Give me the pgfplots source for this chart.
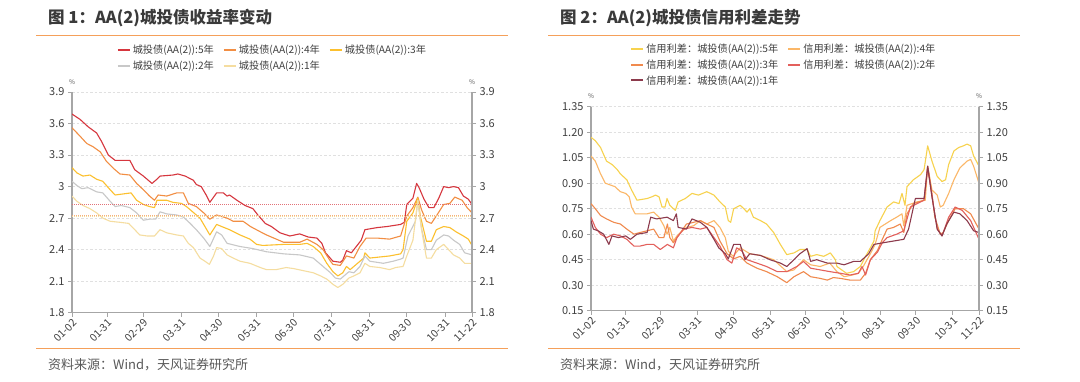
\documentclass[border=0pt]{standalone}
\usepackage{fontspec}
\setmainfont{Noto Sans CJK SC}
\usepackage{pgfplots}
\pgfplotsset{compat=1.18}
\definecolor{axisgray}{HTML}{A6A6A6}
\definecolor{gridgray}{HTML}{E0E0E0}
\definecolor{tickgray}{HTML}{404040}
\definecolor{titlegray}{HTML}{3A3A3A}
\definecolor{srcgray}{HTML}{595959}
\definecolor{rulec}{HTML}{F5A05A}
\definecolor{cA}{HTML}{D6363E}
\definecolor{cB}{HTML}{F28E43}
\definecolor{cC}{HTML}{FCC02E}
\definecolor{cD}{HTML}{C8C8C8}
\definecolor{cE}{HTML}{F5DDA0}
\definecolor{rA}{HTML}{F7D24E}
\definecolor{rB}{HTML}{FBB768}
\definecolor{rC}{HTML}{F08A4E}
\definecolor{rD}{HTML}{E3605C}
\definecolor{rE}{HTML}{8C3A4C}
\pgfplotsset{
  base/.style={
    scale only axis, xmin=0, xmax=325,
    axis line style={draw=axisgray, line width=1.1pt, -},
    tick style={draw=axisgray, line width=0.8pt},
    major tick length=4pt, tick align=outside,
    yticklabel style={font=\fontsize{11}{12}\selectfont, text=tickgray},
    xticklabel style={font=\fontsize{10.5}{12}\selectfont, text=tickgray},
    /pgf/number format/assume math mode=true,
  },
  main/.style={base, axis x line*=bottom, axis y line*=left,
    ymajorgrids, grid style={draw=gridgray, dash pattern=on 2.5pt off 2pt, line width=0.6pt},
    xtick={0,29,58,89,119,150,180,211,242,272,303,325},
    xticklabels={01-02,01-31,02-29,03-31,04-30,05-31,06-30,07-31,08-31,09-30,10-31,11-22},
    x tick label style={rotate=45, anchor=north east, inner sep=1pt},
    legend style={draw=none, fill=none, font=\fontsize{10.2}{12}\selectfont, text=tickgray, anchor=north, row sep=1.5pt,
      /tikz/every even column/.append style={column sep=7pt}},
    legend image code/.code={\draw[#1, line width=2pt] (0pt,0pt) -- (12pt,0pt);},
    every axis plot/.append style={line width=1.1pt, line join=round},
  },
  twin/.style={base, axis y line*=right, axis x line=none},
}
\begin{document}
\begin{tikzpicture}[x=1pt,y=1pt]
\useasboundingbox[fill=white] (0,0) rectangle (1080,-381);
% ---------- panel 1 ----------
\node[anchor=west, inner sep=0, font=\fontsize{16.5}{18}\selectfont\bfseries, text=titlegray] at (48,-18) {图 1：AA(2)城投债收益率变动};
\draw[rulec, line width=1pt] (36,-35) -- (508,-35);
\draw[rulec, line width=1pt] (36,-348) -- (508,-348);
\node[anchor=west, inner sep=0, font=\fontsize{13}{15}\selectfont, text=srcgray] at (48,-365) {资料来源：Wind，天风证券研究所};
\node[font=\fontsize{6.5}{7}\selectfont, text=srcgray] at (72,-82) {\%};
\node[font=\fontsize{6.5}{7}\selectfont, text=srcgray] at (472,-82) {\%};
\begin{axis}[main, at={(72pt,-312.7pt)}, anchor=south west, width=400pt, height=220.7pt,
  ymin=1.8, ymax=3.9, ytick={1.8,2.1,2.4,2.7,3.0,3.3,3.6,3.9},
  legend columns=3, legend style={at={(0.501,1.231)}}]
\addplot[cA] coordinates {(0,3.69)(6.5,3.64)(13,3.57)(20,3.51)(24,3.43)(29.5,3.30)(35,3.25)(47,3.25)(51,3.16)(58,3.10)(65,3.03)(69,3.07)(71.5,3.10)(82,3.11)(86,3.12)(92,3.10)(98.6,3.06)(101,3.02)(105,3.00)(109,2.92)(112,2.85)(117.5,2.94)(123,2.94)(126,2.91)(128,2.92)(134,2.87)(140.6,2.82)(147,2.79)(151,2.73)(157,2.65)(162,2.62)(169,2.56)(177,2.53)(185,2.55)(192,2.52)(199,2.51)(203,2.46)(206,2.37)(212,2.29)(218,2.28)(220,2.30)(223,2.39)(227,2.37)(231,2.43)(235,2.49)(238,2.59)(248,2.61)(256,2.62)(267,2.64)(270,2.66)(272,2.83)(277,2.89)(280,3.03)(282,2.99)(286,2.88)(290,2.80)(294,2.80)(298,2.89)(302,3.00)(306,2.99)(310,3.00)(314,2.99)(318,2.91)(322,2.88)(325,2.83)};
\addlegendentry{城投债(AA(2)):5年}
\addplot[cB] coordinates {(0,3.56)(6.5,3.48)(12,3.41)(17,3.38)(23,3.33)(28,3.24)(34,3.17)(39,3.12)(47,3.11)(52.5,3.03)(58,2.97)(63,2.91)(67,2.87)(70,2.92)(77,2.91)(85,2.94)(90.5,2.94)(94.5,2.84)(101,2.81)(107,2.75)(112,2.69)(117.5,2.73)(126,2.70)(131,2.67)(139,2.67)(145,2.62)(153,2.57)(158,2.54)(166,2.50)(172,2.47)(185,2.47)(191,2.50)(199,2.45)(204,2.40)(210,2.29)(212,2.26)(218,2.25)(223,2.34)(229,2.32)(234,2.43)(239,2.51)(248,2.51)(258,2.50)(267,2.53)(272,2.72)(277,2.80)(281,2.90)(284,2.78)(288,2.67)(292,2.65)(296,2.72)(302,2.83)(307,2.84)(311,2.90)(317,2.87)(321,2.80)(325,2.75)};
\addlegendentry{城投债(AA(2)):4年}
\addplot[cC] coordinates {(0,3.18)(4,3.13)(9,3.10)(14.6,3.11)(20,3.07)(25,3.05)(31,2.97)(35,2.92)(48,2.94)(52.5,2.87)(58,2.83)(63,2.81)(67,2.80)(69,2.87)(77,2.87)(82,2.85)(89,2.84)(93,2.81)(99,2.75)(104,2.70)(108,2.62)(112,2.54)(117.5,2.64)(121.6,2.62)(128,2.59)(136.5,2.54)(144.6,2.50)(150,2.45)(155,2.44)(172,2.45)(185,2.45)(191,2.46)(196,2.43)(202,2.37)(207,2.27)(212,2.19)(216,2.15)(220,2.18)(223,2.24)(226,2.21)(231,2.26)(237,2.32)(238,2.37)(242,2.32)(250,2.33)(258,2.34)(267,2.36)(269,2.40)(272,2.67)(277,2.75)(281,2.89)(283,2.72)(288,2.48)(292,2.48)(296,2.59)(302,2.62)(307,2.61)(312,2.57)(318,2.53)(322,2.50)(325,2.44)};
\addlegendentry{城投债(AA(2)):3年}
\addplot[cD] coordinates {(0,3.05)(4,3.01)(8,2.98)(13,2.99)(20,2.95)(25,2.94)(31,2.86)(35,2.81)(40,2.82)(47,2.80)(52.5,2.75)(58,2.68)(63,2.69)(68,2.69)(71.5,2.76)(77,2.74)(85,2.73)(90.5,2.71)(96,2.65)(101,2.59)(107,2.51)(112,2.43)(117.5,2.57)(121.6,2.54)(126,2.46)(136.5,2.43)(147,2.41)(158,2.38)(172,2.36)(185,2.35)(196,2.32)(204,2.24)(210,2.18)(214,2.13)(218,2.12)(222,2.16)(225,2.19)(229,2.18)(234,2.24)(238,2.34)(242,2.29)(253,2.27)(261,2.29)(267,2.31)(269,2.32)(273,2.53)(279,2.67)(281,2.87)(284,2.60)(288,2.40)(292,2.40)(296,2.49)(302,2.54)(306,2.53)(310,2.49)(315,2.45)(319,2.37)(325,2.35)};
\addlegendentry{城投债(AA(2)):2年}
\addplot[cE] coordinates {(0,2.91)(4,2.86)(9,2.82)(14.6,2.79)(20,2.75)(25,2.70)(31,2.67)(39,2.66)(46,2.65)(51,2.59)(55,2.54)(61,2.53)(67,2.53)(71.5,2.59)(77,2.56)(85,2.54)(90.5,2.53)(94.5,2.46)(98.6,2.42)(104,2.32)(108,2.29)(111.6,2.26)(115,2.34)(117.5,2.42)(121.6,2.41)(126,2.35)(131,2.32)(136.5,2.29)(144.6,2.27)(153,2.23)(158,2.21)(166,2.21)(174,2.23)(180,2.22)(188,2.20)(196,2.18)(202,2.15)(207,2.12)(212,2.07)(216,2.04)(220,2.07)(225,2.13)(229,2.15)(234,2.18)(238,2.27)(242,2.24)(250,2.23)(258,2.21)(263,2.23)(269,2.24)(272,2.34)(277,2.49)(281,2.87)(284,2.59)(288,2.32)(292,2.32)(296,2.40)(302,2.45)(306,2.40)(310,2.35)(315,2.32)(319,2.27)(325,2.27)};
\addlegendentry{城投债(AA(2)):1年}
\addplot[cA!70, line width=0.7pt, dash pattern=on 1pt off 1pt, forget plot] coordinates {(0,2.835)(325,2.835)};
\addplot[cB!70, line width=0.7pt, dash pattern=on 1pt off 1pt, forget plot] coordinates {(0,2.73)(325,2.73)};
\addplot[cE, line width=0.7pt, dash pattern=on 1pt off 1pt, forget plot] coordinates {(0,2.715)(325,2.715)};
\end{axis}
\begin{axis}[twin, at={(72pt,-312.7pt)}, anchor=south west, width=400pt, height=220.7pt,
  ymin=1.8, ymax=3.9, ytick={1.8,2.1,2.4,2.7,3.0,3.3,3.6,3.9}]
\end{axis}
% ---------- panel 2 ----------
\node[anchor=west, inner sep=0, font=\fontsize{16.5}{18}\selectfont\bfseries, text=titlegray] at (560,-18) {图 2：AA(2)城投债信用利差走势};
\draw[rulec, line width=1pt] (548,-35) -- (1020,-35);
\draw[rulec, line width=1pt] (548,-348) -- (1020,-348);
\node[anchor=west, inner sep=0, font=\fontsize{13}{15}\selectfont, text=srcgray] at (560,-365) {资料来源：Wind，天风证券研究所};
\node[font=\fontsize{6.5}{7}\selectfont, text=srcgray] at (591,-96) {\%};
\node[font=\fontsize{6.5}{7}\selectfont, text=srcgray] at (979,-96) {\%};
\begin{axis}[main, at={(591pt,-310.7pt)}, anchor=south west, width=388pt, height=204pt,
  ymin=0.15, ymax=1.35, ytick={0.15,0.30,0.45,0.60,0.75,0.90,1.05,1.20,1.35},
  yticklabel style={/pgf/number format/.cd, fixed, fixed zerofill, precision=2},
  legend columns=2, legend style={at={(0.497,1.327)}}]
\addplot[rA] coordinates {(0,1.17)(3.6,1.15)(8,1.11)(13,1.03)(17.6,1.01)(22,0.98)(24.6,0.955)(30,0.92)(34,0.86)(38.5,0.80)(47,0.81)(51,0.82)(54,0.83)(57,0.82)(59.5,0.76)(62,0.76)(63.7,0.81)(66,0.77)(70.6,0.74)(73,0.79)(79,0.81)(84.6,0.84)(90,0.83)(97,0.85)(103,0.83)(108,0.79)(112.5,0.76)(115,0.68)(117,0.67)(119.5,0.75)(125,0.77)(128,0.75)(130.7,0.73)(133,0.75)(136,0.70)(142,0.68)(147,0.66)(153,0.61)(158.6,0.54)(164,0.48)(170,0.49)(175,0.51)(181,0.51)(184,0.47)(189,0.48)(195,0.47)(200.5,0.49)(204.7,0.45)(206,0.41)(212,0.38)(214,0.37)(220,0.38)(225.6,0.41)(230,0.47)(234,0.52)(237,0.56)(238,0.62)(242,0.68)(248,0.76)(253.5,0.79)(258,0.78)(260.5,0.84)(263,0.77)(264.7,0.88)(270,0.92)(276,0.95)(279,0.98)(282,1.12)(285.6,1.03)(290,0.94)(294,0.91)(297,0.92)(299.6,1.01)(304,1.09)(308,1.11)(312,1.12)(315,1.13)(318,1.12)(320.5,1.06)(325,1.00)};
\addlegendentry{信用利差：城投债(AA(2)):5年}
\addplot[rB] coordinates {(0,1.06)(3.6,1.03)(8,0.955)(12,0.90)(16,0.89)(20,0.88)(24.6,0.85)(29,0.84)(32,0.82)(34,0.76)(37,0.72)(47,0.72)(52.5,0.73)(57,0.70)(61,0.65)(63.7,0.60)(66,0.64)(69,0.56)(72,0.59)(75,0.61)(80,0.64)(86,0.65)(91.6,0.68)(97,0.66)(103,0.68)(108,0.64)(112.5,0.58)(115,0.50)(119,0.47)(125,0.52)(133,0.485)(142,0.475)(153,0.45)(164,0.38)(170,0.39)(178,0.45)(184,0.42)(192,0.41)(200,0.43)(206,0.38)(212,0.35)(219,0.36)(224,0.37)(228,0.41)(234,0.485)(238,0.54)(242,0.64)(251,0.68)(256,0.70)(260.5,0.72)(262,0.65)(264.7,0.77)(273,0.79)(280,0.80)(282,1.00)(285.6,0.86)(290,0.83)(292.6,0.76)(295,0.77)(299.6,0.84)(304,0.92)(309,0.99)(315,1.03)(318,1.04)(320.5,1.00)(325,0.90)};
\addlegendentry{信用利差：城投债(AA(2)):4年}
\addplot[rC] coordinates {(0,0.78)(3.6,0.75)(8,0.71)(13,0.69)(19,0.67)(24.6,0.66)(30,0.63)(36,0.60)(41,0.61)(47,0.62)(52.5,0.63)(57,0.58)(61,0.58)(64,0.66)(66,0.58)(69,0.55)(75,0.61)(80,0.66)(86,0.67)(91.6,0.68)(97,0.66)(103,0.64)(108,0.56)(114,0.485)(119.5,0.455)(125,0.47)(130.7,0.43)(139,0.40)(147,0.38)(156,0.35)(164,0.315)(170,0.35)(178,0.38)(184,0.35)(192,0.34)(198,0.33)(203,0.345)(209,0.34)(217,0.33)(225.6,0.33)(230,0.37)(234,0.45)(240,0.505)(244,0.57)(248,0.63)(253.5,0.64)(259,0.66)(262,0.61)(264.7,0.72)(270,0.78)(279,0.80)(282,1.00)(285.6,0.84)(288,0.70)(292.6,0.60)(295,0.61)(299.6,0.68)(305,0.75)(312,0.75)(318,0.72)(325,0.63)};
\addlegendentry{信用利差：城投债(AA(2)):3年}
\addplot[rD] coordinates {(0,0.70)(3.6,0.64)(8,0.60)(13,0.58)(19,0.60)(24.6,0.59)(30,0.57)(36,0.53)(41,0.53)(47,0.54)(52.5,0.54)(58,0.51)(64,0.54)(69,0.52)(72,0.58)(77.6,0.63)(84.6,0.64)(91.6,0.63)(97,0.64)(103,0.58)(108,0.53)(114,0.45)(118,0.43)(122,0.52)(126.5,0.50)(130.7,0.45)(139,0.43)(147,0.41)(156,0.38)(164,0.38)(172.5,0.41)(178,0.44)(184,0.40)(192,0.39)(200,0.38)(209,0.37)(217,0.36)(224,0.37)(227,0.41)(230,0.36)(234,0.45)(240,0.495)(244,0.55)(248,0.58)(256,0.60)(262,0.62)(267.5,0.76)(279,0.80)(282,0.99)(287,0.76)(290,0.63)(294,0.59)(299.6,0.70)(305,0.76)(311,0.74)(318,0.68)(325,0.57)};
\addlegendentry{信用利差：城投债(AA(2)):2年}
\addplot[rE] coordinates {(0,0.68)(2,0.63)(6,0.62)(10.6,0.60)(15,0.54)(17.6,0.59)(23,0.58)(29,0.59)(33,0.57)(38.5,0.60)(47,0.61)(50,0.70)(55,0.69)(63.7,0.70)(69,0.68)(71.5,0.72)(73,0.64)(80,0.63)(84.6,0.69)(91.6,0.67)(97,0.64)(103,0.57)(107,0.52)(112.5,0.485)(115,0.455)(119.5,0.54)(125,0.54)(129,0.45)(133,0.485)(142,0.475)(150,0.45)(158.6,0.43)(164,0.41)(170,0.45)(175,0.485)(181,0.515)(184,0.44)(189,0.45)(198,0.43)(206,0.43)(212,0.42)(220,0.44)(225.6,0.44)(232.6,0.485)(237,0.54)(245,0.55)(253.5,0.56)(262,0.57)(266,0.63)(271.7,0.81)(279,0.81)(282,1.00)(285.6,0.82)(290,0.63)(294,0.59)(298,0.66)(304,0.73)(309,0.72)(315,0.68)(320.5,0.62)(325,0.61)};
\addlegendentry{信用利差：城投债(AA(2)):1年}
\end{axis}
\begin{axis}[twin, at={(591pt,-310.7pt)}, anchor=south west, width=388pt, height=204pt,
  ymin=0.15, ymax=1.35, ytick={0.15,0.30,0.45,0.60,0.75,0.90,1.05,1.20,1.35},
  yticklabel style={/pgf/number format/.cd, fixed, fixed zerofill, precision=2}]
\end{axis}
\end{tikzpicture}
\end{document}
